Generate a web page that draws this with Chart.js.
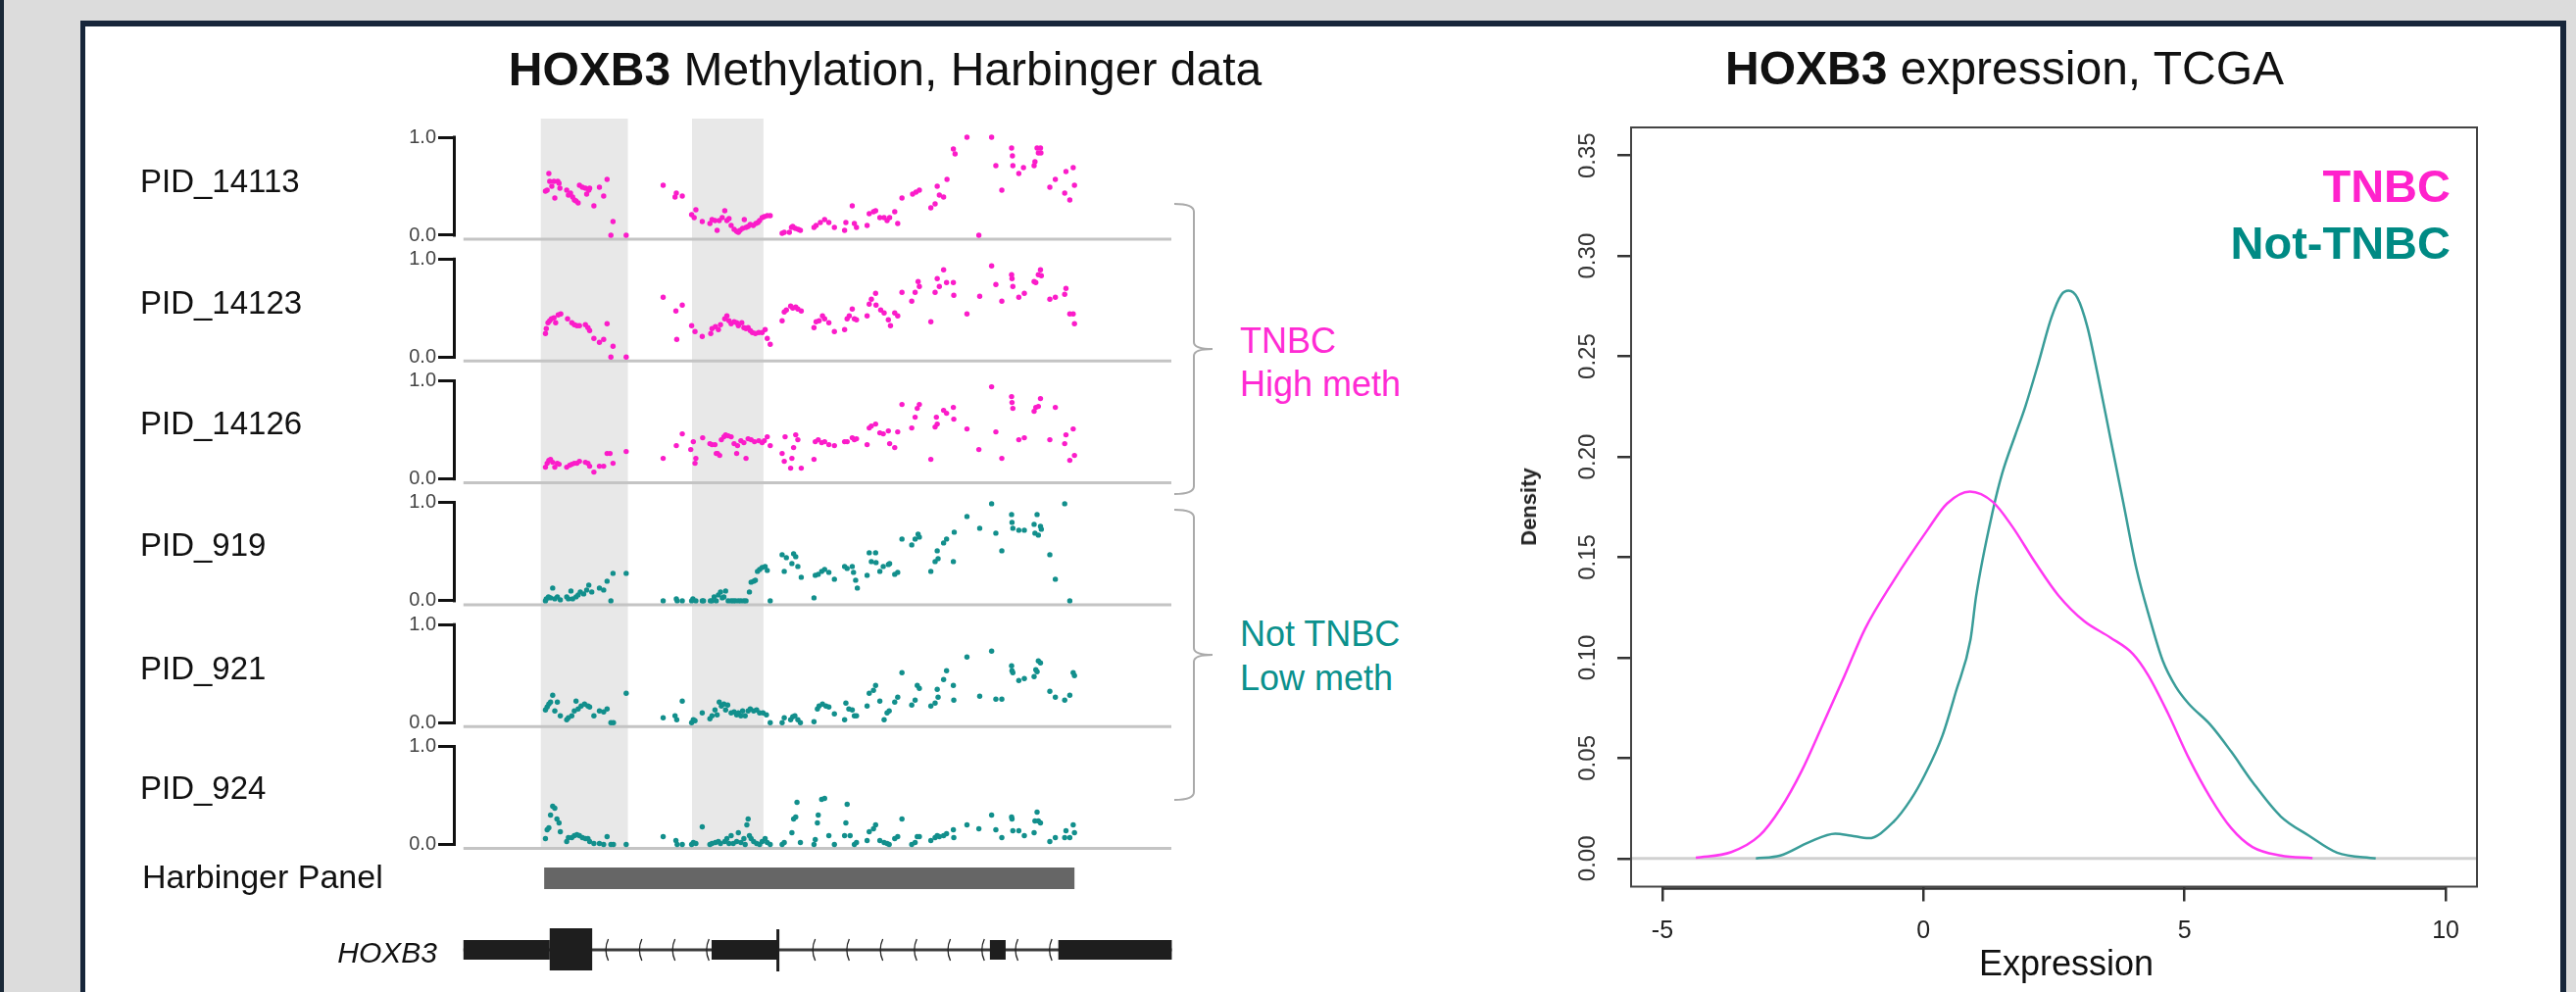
<!DOCTYPE html>
<html>
<head>
<meta charset="utf-8">
<script src="https://cdn.jsdelivr.net/npm/chart.js@4.4.1/dist/chart.umd.min.js"></script>
<style>
  html, body { margin: 0; padding: 0; }
  body { width: 2628px; height: 1012px; background: #dcdcdc; position: relative; overflow: hidden;
         font-family: "Liberation Sans", Arial, sans-serif; }
  #strip { position: absolute; left: 0; top: 0; width: 4px; height: 1012px; background: #1b2938; }
  #panel { position: absolute; left: 82px; top: 21px; width: 2525px; height: 1100px; background: #fff;
           border: 6px solid #17263a; border-left-width: 5px; }
  canvas { position: absolute; top: 0; }
  #meth { left: 0; }
  #dens { left: 1560px; }
  .t { position: absolute; white-space: nowrap; line-height: 1; color: #111; }
  .mag { color: #ff2bd4; }
  .teal { color: #0b918d; }
</style>
</head>
<body>
<div id="strip"></div>
<div id="panel"></div>
<canvas id="meth" width="1250" height="1012"></canvas>
<canvas id="dens" width="1068" height="1012"></canvas>

<div class="t" style="left:903px;top:47px;font-size:48px;transform:translateX(-50%)"><b>HOXB3</b> Methylation, Harbinger data</div>
<div class="t" style="left:2045px;top:46px;font-size:48px;transform:translateX(-50%)"><b>HOXB3</b> expression, TCGA</div>

<div class="t" style="left:143px;top:168px;font-size:33px">PID_14113</div>
<div class="t" style="left:143px;top:292px;font-size:33px">PID_14123</div>
<div class="t" style="left:143px;top:415px;font-size:33px">PID_14126</div>
<div class="t" style="left:143px;top:539px;font-size:33px">PID_919</div>
<div class="t" style="left:143px;top:665px;font-size:33px">PID_921</div>
<div class="t" style="left:143px;top:787px;font-size:33px">PID_924</div>
<div class="t" style="left:145px;top:877px;font-size:34px">Harbinger Panel</div>
<div class="t" style="left:446px;top:957px;font-size:30px;font-style:italic;transform:translateX(-100%)">HOXB3</div>

<div class="t mag" style="left:1265px;top:330px;font-size:36px">TNBC</div>
<div class="t mag" style="left:1265px;top:374px;font-size:36px">High meth</div>
<div class="t teal" style="left:1265px;top:629px;font-size:36px">Not TNBC</div>
<div class="t teal" style="left:1265px;top:674px;font-size:36px">Low meth</div>

<div class="t" style="left:2500px;top:166px;font-size:47px;font-weight:bold;color:#ff22cc;transform:translateX(-100%)">TNBC</div>
<div class="t" style="left:2500px;top:224px;font-size:47px;font-weight:bold;color:#008a84;transform:translateX(-100%)">Not-TNBC</div>
<div class="t" style="left:1560px;top:517px;font-size:22px;font-weight:bold;color:#222;transform:translate(-50%,-50%) rotate(-90deg)">Density</div>
<div class="t" style="left:2108px;top:965px;font-size:36px;transform:translateX(-50%)">Expression</div>

<script>
// methylation tracks, [position, beta value]
const tracks = ['PID_14113', 'PID_14123', 'PID_14126', 'PID_919', 'PID_921', 'PID_924'];
const tnbcTracks = 3;

const pid14113 = [[268,.45],[272,.46],[276,.63],[278,.55],[283,.50],[288,.55],[290,.38],[297,.55],[300,.53],[302,.48],[318,.46],[322,.41],[327,.43],[332,.39],[336,.36],[340,.35],[345,.33],[348,.51],[355,.49],[362,.48],[365,.42],[370,.46],[372,.48],[382,.30],[395,.49],[405,.40],[413,.57],[427,.14],[422,0],[458,0],
  [545,.51],[573,.39],[576,.43],[590,.40],[612,.21],[618,.18],[622,.26],[637,.14],[655,.12],[660,.16],[667,.15],[672,.05],[677,.15],[684,.18],[690,.25],[695,.15],[700,.17],[705,.10],[712,.06],[718,.04],[722,.03],[726,.05],[732,.07],[736,.16],[740,.08],[745,.09],[750,.11],[757,.10],[763,.12],[768,.13],[772,.15],[778,.18],[783,.19],[790,.20],[797,.20],
  [825,.02],[830,.03],[842,.03],[847,.08],[850,.09],[856,.07],[863,.06],[868,.05],[900,.08],[905,.10],[915,.13],[925,.16],[935,.13],[948,.08],[972,.05],[975,.13],[990,.30],[995,.12],[1000,.08],[1025,.10],[1030,.22],[1040,.24],[1045,.25],[1055,.18],[1065,.18],[1072,.15],[1078,.18],[1090,.24],[1097,.12],[1107,.38],[1132,.42],[1140,.44],[1148,.46],[1175,.28],[1185,.32],[1190,.50],[1195,.41],[1205,.39],[1213,.57],[1228,.88],[1232,.83],[1260,1],[1288,0],[1318,1],[1328,.71],[1342,.46],[1365,.89],[1367,.81],[1368,.71],[1382,.63],[1393,.69],[1418,.71],[1420,.75],[1425,.89],[1428,.84],[1433,.89],[1434,.84],[1455,.49],[1468,.57],[1490,.43],[1493,.65],[1502,.36],[1510,.69],[1513,.51]];

const pid14123 = [[268,.24],[270,.29],[274,.35],[278,.37],[282,.39],[288,.40],[292,.35],[298,.43],[304,.44],[320,.39],[330,.35],[336,.33],[342,.32],[348,.32],[362,.33],[368,.30],[372,.27],[382,.19],[395,.15],[405,.18],[413,.34],[427,.11],[422,0],[458,0],
  [545,.61],[575,.47],[577,.18],[590,.53],[612,.32],[620,.26],[637,.21],[657,.24],[660,.29],[668,.31],[675,.28],[680,.33],[690,.39],[695,.42],[700,.37],[705,.34],[712,.36],[718,.35],[722,.32],[730,.35],[735,.30],[740,.29],[745,.30],[750,.27],[755,.25],[762,.24],[770,.25],[778,.25],[785,.28],[790,.19],[797,.13],
  [825,.37],[830,.46],[835,.48],[845,.52],[850,.50],[857,.51],[862,.49],[870,.47],[900,.30],[905,.36],[912,.37],[920,.42],[925,.39],[935,.35],[948,.26],[972,.28],[978,.39],[983,.42],[990,.49],[995,.39],[1000,.38],[1025,.42],[1030,.54],[1035,.59],[1045,.65],[1046,.53],[1057,.48],[1065,.45],[1075,.38],[1080,.32],[1090,.45],[1097,.42],[1107,.66],[1130,.57],[1138,.66],[1145,.77],[1148,.72],[1175,.36],[1185,.66],[1190,.80],[1195,.72],[1205,.89],[1212,.76],[1228,.76],[1229,.63],[1260,.44],[1290,.62],[1318,.93],[1328,.74],[1342,.57],[1365,.84],[1366,.80],[1368,.72],[1382,.61],[1395,.65],[1418,.77],[1422,.76],[1428,.84],[1433,.89],[1435,.83],[1455,.59],[1468,.61],[1490,.64],[1493,.70],[1502,.44],[1510,.44],[1513,.34]];

const pid14126 = [[268,.12],[272,.16],[276,.19],[280,.20],[285,.17],[290,.12],[296,.16],[300,.15],[318,.12],[325,.14],[330,.15],[336,.16],[342,.16],[348,.18],[362,.17],[368,.16],[372,.13],[382,.07],[395,.13],[405,.13],[413,.26],[420,.26],[427,.16],[458,.28],
  [545,.21],[576,.34],[590,.46],[610,.30],[616,.38],[620,.16],[622,.21],[638,.42],[655,.36],[660,.35],[667,.35],[670,.26],[673,.26],[678,.24],[682,.40],[688,.43],[692,.45],[698,.44],[705,.43],[712,.36],[718,.26],[720,.34],[728,.39],[735,.37],[740,.21],[745,.41],[752,.40],[760,.38],[770,.39],[778,.37],[783,.39],[790,.43],[797,.34],
  [825,.26],[830,.18],[832,.43],[845,.11],[848,.21],[852,.32],[857,.45],[862,.40],[870,.11],[900,.20],[903,.38],[910,.40],[918,.37],[925,.38],[935,.35],[948,.34],[972,.38],[978,.38],[990,.42],[995,.40],[1000,.41],[1025,.35],[1030,.52],[1035,.54],[1045,.56],[1055,.47],[1063,.46],[1075,.49],[1078,.36],[1090,.32],[1097,.48],[1107,.76],[1130,.52],[1138,.63],[1143,.72],[1148,.76],[1175,.20],[1185,.53],[1188,.63],[1190,.56],[1205,.70],[1212,.67],[1228,.73],[1229,.61],[1260,.51],[1288,.30],[1318,.94],[1328,.48],[1342,.21],[1365,.84],[1366,.78],[1368,.72],[1382,.40],[1395,.42],[1418,.69],[1422,.73],[1428,.74],[1433,.82],[1455,.40],[1468,.73],[1490,.36],[1493,.45],[1502,.19],[1510,.51],[1513,.24]];

const pid919 = [[268,0],[270,.02],[275,.04],[280,.03],[285,.13],[290,.02],[296,.04],[303,.01],[318,.04],[322,.02],[328,.10],[332,.02],[340,.04],[345,.06],[350,.09],[358,.07],[365,.11],[370,.16],[377,.09],[395,.13],[405,.11],[413,.20],[422,0],[427,.28],[458,.28],
  [545,0],[576,.02],[578,0],[590,0],[612,0],[615,.02],[622,0],[637,0],[640,0],[656,0],[660,0],[665,.04],[670,0],[675,.06],[680,.09],[684,.03],[688,.04],[692,.10],[698,0],[705,0],[710,0],[715,0],[722,0],[728,0],[735,0],[740,0],[748,.09],[752,.19],[758,.20],[762,.21],[767,.30],[772,.32],[778,.34],[785,.35],[790,.31],[797,0],
  [825,.47],[830,.30],[835,.44],[848,.38],[852,.48],[857,.45],[862,.35],[870,.24],[900,.03],[903,.26],[910,.27],[918,.30],[925,.32],[935,.29],[948,.22],[972,.35],[978,.33],[990,.35],[993,.29],[998,.21],[1002,.13],[1025,.26],[1030,.49],[1035,.40],[1045,.49],[1046,.39],[1055,.30],[1063,.35],[1075,.37],[1078,.38],[1090,.27],[1097,.29],[1107,.63],[1130,.57],[1138,.63],[1145,.68],[1148,.65],[1175,.30],[1185,.40],[1190,.51],[1192,.43],[1205,.59],[1212,.63],[1228,.40],[1230,.70],[1260,.86],[1290,.74],[1318,.99],[1328,.69],[1342,.51],[1365,.88],[1366,.80],[1368,.74],[1382,.72],[1395,.72],[1418,.78],[1420,.69],[1425,.88],[1428,.67],[1433,.76],[1435,.73],[1455,.47],[1468,.22],[1490,.99],[1502,0]];

const pid921 = [[268,.13],[272,.16],[276,.19],[280,.21],[285,.28],[290,.12],[296,.21],[303,.07],[318,.03],[322,.05],[330,.07],[336,.12],[340,.22],[345,.14],[352,.17],[360,.19],[368,.17],[372,.16],[382,.07],[395,.12],[405,.11],[413,.14],[422,0],[428,0],[458,.30],
  [545,.05],[573,.07],[577,.03],[590,.22],[612,0],[616,.03],[620,.02],[637,.10],[655,.04],[660,.07],[667,.13],[672,.08],[677,.21],[682,.17],[688,.19],[692,.13],[697,.18],[705,.10],[712,.11],[718,.08],[722,.10],[728,.07],[732,.12],[738,.07],[745,.12],[750,.14],[758,.12],[765,.13],[772,.10],[780,.10],[788,.08],[797,0],
  [825,0],[830,.05],[845,.03],[850,.06],[855,.07],[862,.03],[868,0],[900,.01],[908,.14],[912,.17],[920,.19],[928,.17],[935,.16],[948,.09],[972,.03],[975,.20],[982,.14],[990,.13],[995,.07],[1000,.07],[1025,.17],[1030,.30],[1040,.33],[1045,.38],[1055,.22],[1065,.03],[1072,.10],[1077,.12],[1090,.21],[1097,.26],[1107,.51],[1130,.18],[1138,.23],[1143,.38],[1148,.35],[1175,.17],[1185,.20],[1190,.34],[1192,.26],[1205,.44],[1212,.53],[1228,.38],[1229,.23],[1260,.67],[1290,.27],[1318,.73],[1328,.24],[1342,.24],[1365,.58],[1366,.53],[1368,.51],[1382,.43],[1395,.45],[1418,.47],[1422,.54],[1425,.52],[1428,.63],[1433,.61],[1455,.32],[1468,.26],[1490,.23],[1502,.28],[1510,.51],[1513,.48]];

const pid924 = [[268,.06],[272,.15],[276,.17],[280,.30],[285,.39],[290,.37],[295,.26],[300,.22],[303,.13],[318,.03],[322,.07],[330,.07],[336,.09],[342,.10],[348,.09],[355,.07],[362,.06],[368,.06],[372,.03],[382,.01],[395,.01],[405,0],[413,.08],[422,0],[428,0],[458,0],
  [545,.08],[575,.04],[578,0],[590,0],[612,0],[616,.02],[622,.01],[637,.18],[655,0],[660,.01],[668,.02],[675,.03],[680,.01],[690,.03],[695,.06],[700,.01],[705,.09],[710,.01],[718,.03],[722,.12],[728,.02],[735,.06],[738,0],[742,.20],[745,.26],[748,.09],[752,.06],[758,.03],[765,.01],[772,0],[778,.03],[785,.06],[790,.02],[797,0],
  [825,0],[830,.02],[848,.12],[852,.26],[857,.28],[860,.43],[868,.02],[900,0],[903,.05],[908,.22],[910,.30],[918,.46],[925,.47],[935,.09],[948,0],[972,.09],[975,.22],[978,.41],[985,.09],[995,0],[1000,.02],[1025,.04],[1030,.13],[1040,.16],[1045,.20],[1055,.04],[1065,.02],[1072,.01],[1077,0],[1090,.06],[1097,.08],[1107,.26],[1130,0],[1138,.02],[1143,.08],[1148,.08],[1175,.04],[1185,.07],[1190,.09],[1195,.08],[1205,.09],[1212,.11],[1228,.15],[1229,.07],[1260,.20],[1288,.16],[1318,.30],[1328,.15],[1342,.07],[1365,.28],[1366,.26],[1368,.14],[1382,.14],[1395,.09],[1418,.12],[1420,.24],[1425,.33],[1428,.24],[1433,.22],[1455,.03],[1468,.07],[1490,.07],[1493,.14],[1502,.07],[1510,.20],[1513,.12]];

const methSeries = [pid14113, pid14123, pid14126, pid919, pid921, pid924];
const methTickLabels = ['0.0', '1.0'];

// genome annotation, same position units
const shadedRegions = [[257, 462], [613, 781]];
const harbingerPanel = [265, 1513];
const geneSpan = [75, 1742];
const utrBlocks = [[75, 278], [659, 815], [1314, 1351], [1475, 1742]];
const cdsBlocks = [[278, 378]];
const tssMark = 815;
const intronArrows = [409, 488, 566, 646, 896, 976, 1055, 1135, 1214, 1294, 1373, 1453];

// density of expression
const tnbcX = [-4.36, -3.68, -3.14, -2.74, -2.33, -1.93, -1.52, -1.12, -0.58, 0.08, 0.45, 0.89, 1.33, 1.70, 2.14, 2.58, 3.08, 3.58, 4.01, 4.30, 4.68, 5.09, 5.49, 5.89, 6.30, 6.84, 7.45];
const tnbcY = [0.0004, 0.0032, 0.0114, 0.0248, 0.0438, 0.0667, 0.0905, 0.1143, 0.138, 0.1637, 0.1767, 0.1827, 0.1775, 0.1653, 0.1474, 0.1311, 0.1181, 0.1100, 0.1019, 0.0914, 0.0724, 0.0495, 0.0305, 0.0152, 0.0057, 0.0015, 0.0002];
const notTnbcX = [-3.21, -2.74, -2.20, -1.69, -1.39, -1.05, -0.58, -0.24, 0.03, 0.36, 0.62, 0.90, 1.01, 1.33, 1.51, 1.76, 1.95, 2.20, 2.45, 2.64, 2.78, 2.95, 3.14, 3.33, 3.58, 3.83, 4.08, 4.33, 4.58, 4.83, 5.08, 5.49, 5.89, 6.30, 6.84, 7.38, 7.92, 8.66];
const notTnbcY = [0.0000, 0.0015, 0.0080, 0.0124, 0.0114, 0.0101, 0.0181, 0.0295, 0.0419, 0.0610, 0.0830, 0.1090, 0.1310, 0.1734, 0.1920, 0.2110, 0.2250, 0.2466, 0.2694, 0.2807, 0.2827, 0.2790, 0.2645, 0.2417, 0.2092, 0.1767, 0.1441, 0.1198, 0.0986, 0.0856, 0.0770, 0.0667, 0.0533, 0.0381, 0.0210, 0.0114, 0.0029, 0.0000];
const expressionTicks = [-5, 0, 5, 10];
const densityTicks = [0, 0.05, 0.10, 0.15, 0.20, 0.25, 0.30, 0.35];

const MAGENTA = '#fb1cc9';
const TEAL = '#128f8c';
const TRACK_STEP = 1.243;
Chart.defaults.font.family = "'Liberation Sans', Arial, sans-serif";

function trackBase(i) {
  return (tracks.length - 1 - i) * TRACK_STEP;
}

var methDecor = {
  id: 'methDecor',
  beforeDatasetsDraw: function(chart) {
    var ctx = chart.ctx, a = chart.chartArea, x = chart.scales.x, y = chart.scales.y;
    ctx.save();
    // grey highlighted regions
    var bandBottom = y.getPixelForValue(trackBase(tracks.length - 1)) + 3;
    ctx.fillStyle = '#e8e8e8';
    shadedRegions.forEach(function(r) {
      var x0 = x.getPixelForValue(r[0]), x1 = x.getPixelForValue(r[1]);
      ctx.fillRect(x0, a.top, x1 - x0, bandBottom - a.top);
    });
    // track baselines and bracket axes
    tracks.forEach(function(t, i) {
      var y0 = y.getPixelForValue(trackBase(i)), y1 = y.getPixelForValue(trackBase(i) + 1);
      ctx.strokeStyle = '#c4c4c4';
      ctx.lineWidth = 3;
      ctx.beginPath();
      ctx.moveTo(x.getPixelForValue(geneSpan[0]), y0 + 4);
      ctx.lineTo(a.right, y0 + 4);
      ctx.stroke();
      ctx.strokeStyle = '#111';
      ctx.beginPath();
      ctx.moveTo(a.left - 1.5, y1 - 1.5);
      ctx.lineTo(a.left - 1.5, y0 + 1.5);
      ctx.stroke();
    });
    // Harbinger panel bar
    var hx0 = x.getPixelForValue(harbingerPanel[0]), hx1 = x.getPixelForValue(harbingerPanel[1]);
    ctx.fillStyle = '#666';
    ctx.fillRect(hx0, a.bottom - 110, hx1 - hx0, 22);
    // gene model
    var gy = a.bottom - 26;
    ctx.strokeStyle = '#3a3a3a';
    ctx.lineWidth = 3;
    ctx.beginPath();
    ctx.moveTo(x.getPixelForValue(geneSpan[0]), gy);
    ctx.lineTo(x.getPixelForValue(geneSpan[1]), gy);
    ctx.stroke();
    ctx.lineWidth = 1.3;
    ctx.strokeStyle = '#222';
    intronArrows.forEach(function(p) {
      var px = x.getPixelForValue(p);
      ctx.beginPath();
      ctx.moveTo(px + 3, gy - 11);
      ctx.quadraticCurveTo(px - 2, gy, px + 3, gy + 11);
      ctx.stroke();
    });
    ctx.fillStyle = '#1e1e1e';
    utrBlocks.forEach(function(b) {
      var x0 = x.getPixelForValue(b[0]), x1 = x.getPixelForValue(b[1]);
      ctx.fillRect(x0, gy - 10, x1 - x0, 20);
    });
    cdsBlocks.forEach(function(b) {
      var x0 = x.getPixelForValue(b[0]), x1 = x.getPixelForValue(b[1]);
      ctx.fillRect(x0, gy - 22, x1 - x0, 43);
    });
    ctx.strokeStyle = '#1e1e1e';
    ctx.lineWidth = 3;
    ctx.beginPath();
    ctx.moveTo(x.getPixelForValue(tssMark), gy - 21);
    ctx.lineTo(x.getPixelForValue(tssMark), gy + 22);
    ctx.stroke();
    ctx.restore();
  },
  afterDraw: function(chart) {
    // curly braces grouping the samples
    var ctx = chart.ctx, a = chart.chartArea, y = chart.scales.y;
    var spans = [[trackBase(0) + 0.32, trackBase(2) - 0.155], [trackBase(3) + 0.93, trackBase(5) + 0.455]];
    ctx.save();
    ctx.strokeStyle = '#aaa';
    ctx.lineWidth = 2;
    spans.forEach(function(s) {
      var t = y.getPixelForValue(s[0]), b = y.getPixelForValue(s[1]), m = (t + b) / 2;
      var xl = a.right + 3, xv = a.right + 23, xc = a.right + 42;
      ctx.beginPath();
      ctx.moveTo(xl, t);
      ctx.quadraticCurveTo(xv, t, xv, t + 8);
      ctx.lineTo(xv, m - 7);
      ctx.quadraticCurveTo(xv, m, xc, m);
      ctx.quadraticCurveTo(xv, m, xv, m + 7);
      ctx.lineTo(xv, b - 8);
      ctx.quadraticCurveTo(xv, b, xl, b);
      ctx.stroke();
    });
    ctx.restore();
  }
};

new Chart(document.getElementById('meth'), {
  type: 'scatter',
  data: {
    datasets: methSeries.map(function(s, i) {
      return {
        label: tracks[i],
        data: s.map(function(p) { return {x: p[0], y: trackBase(i) + p[1]}; }),
        backgroundColor: i < tnbcTracks ? MAGENTA : TEAL,
        pointRadius: 2.7,
        pointBorderWidth: 0
      };
    })
  },
  options: {
    responsive: false,
    animation: false,
    layout: {padding: {left: 0, right: 55, top: 121, bottom: 17}},
    plugins: {legend: {display: false}, tooltip: {enabled: false}},
    scales: {
      x: {type: 'linear', min: 57, max: 1741, display: false},
      y: {
        min: -1.335, max: 7.405,
        afterFit: function(s) { s.width = 465; },
        afterBuildTicks: function(s) {
          var ticks = [];
          for (var i = tracks.length - 1; i >= 0; i--) {
            ticks.push({value: trackBase(i)}, {value: trackBase(i) + 1});
          }
          s.ticks = ticks;
        },
        ticks: {
          autoSkip: false, padding: 2, color: '#444', font: {size: 20},
          callback: function(v, i) { return methTickLabels[i % 2]; }
        },
        grid: {drawOnChartArea: false, tickLength: 18, lineWidth: 3, color: '#111'},
        border: {display: false}
      }
    }
  },
  plugins: [methDecor]
});

var densFrame = {
  id: 'densFrame',
  beforeDatasetsDraw: function(chart) {
    var ctx = chart.ctx, a = chart.chartArea, y = chart.scales.y;
    ctx.save();
    ctx.strokeStyle = '#d0d0d0';
    ctx.lineWidth = 3;
    ctx.beginPath();
    ctx.moveTo(a.left, y.getPixelForValue(0));
    ctx.lineTo(a.right, y.getPixelForValue(0));
    ctx.stroke();
    ctx.restore();
  },
  afterDraw: function(chart) {
    var ctx = chart.ctx, a = chart.chartArea, x = chart.scales.x;
    ctx.save();
    ctx.strokeStyle = '#444';
    ctx.lineWidth = 2;
    ctx.strokeRect(a.left, a.top, a.right - a.left, a.bottom - a.top);
    ctx.strokeStyle = '#333';
    ctx.lineWidth = 2.5;
    ctx.beginPath();
    ctx.moveTo(x.getPixelForValue(expressionTicks[0]), a.bottom + 2);
    ctx.lineTo(x.getPixelForValue(expressionTicks[expressionTicks.length - 1]), a.bottom + 2);
    ctx.stroke();
    ctx.restore();
  }
};

function xy(xs, ys) {
  return xs.map(function(v, i) { return {x: v, y: ys[i]}; });
}

new Chart(document.getElementById('dens'), {
  type: 'line',
  data: {
    datasets: [
      {label: 'TNBC', data: xy(tnbcX, tnbcY), borderColor: '#ff38f2', borderWidth: 2.5,
       pointRadius: 0, cubicInterpolationMode: 'monotone', fill: false},
      {label: 'Not-TNBC', data: xy(notTnbcX, notTnbcY), borderColor: '#3a9d99', borderWidth: 2.5,
       pointRadius: 0, cubicInterpolationMode: 'monotone', fill: false}
    ]
  },
  options: {
    responsive: false,
    animation: false,
    layout: {padding: {left: 0, right: 101, top: 130, bottom: 47.5}},
    plugins: {legend: {display: false}, tooltip: {enabled: false}},
    scales: {
      x: {
        type: 'linear', min: -5.6, max: 10.6,
        afterFit: function(s) { s.height = 60; },
        afterBuildTicks: function(s) { s.ticks = expressionTicks.map(function(v) { return {value: v}; }); },
        ticks: {autoSkip: false, maxRotation: 0, padding: 16, color: '#222', font: {size: 25}},
        grid: {drawOnChartArea: false, tickLength: 15, lineWidth: 2.5, color: '#333'},
        border: {display: false}
      },
      y: {
        min: -0.014, max: 0.364,
        afterFit: function(s) { s.width = 104; },
        afterBuildTicks: function(s) { s.ticks = densityTicks.map(function(v) { return {value: v}; }); },
        ticks: {
          autoSkip: false, minRotation: 90, maxRotation: 90, crossAlign: 'center', padding: 6,
          color: '#333', font: {size: 24},
          callback: function(v) { return v.toFixed(2); }
        },
        grid: {drawOnChartArea: false, tickLength: 14, lineWidth: 2.5, color: '#333'},
        border: {display: false}
      }
    }
  },
  plugins: [densFrame]
});
</script>
</body>
</html>
